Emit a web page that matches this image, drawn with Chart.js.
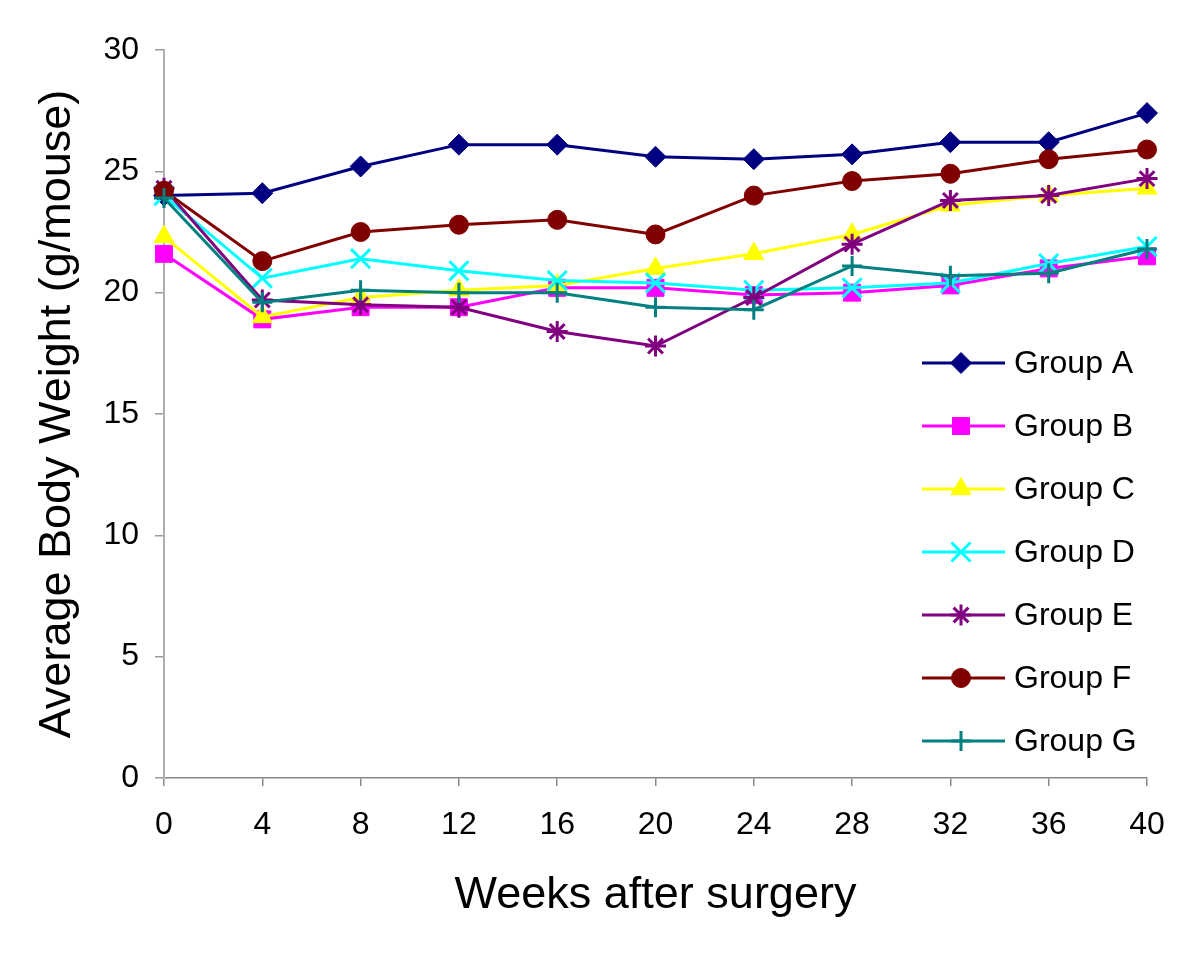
<!DOCTYPE html>
<html>
<head>
<meta charset="utf-8">
<script src="https://cdn.jsdelivr.net/npm/chart.js@4/dist/chart.umd.min.js"></script>
<style>
  body { margin: 0; background: #fff; }
  #wrap { width: 1200px; height: 955px; }
</style>
</head>
<body>
<div id="wrap"><canvas id="weightChart" width="1200" height="955"></canvas></div>
<script>
// weeks after surgery
const weeks = [0, 4, 8, 12, 16, 20, 24, 28, 32, 36, 40];

// average body weight (g/mouse)
const groupA = [24.0, 24.1, 25.2, 26.1, 26.1, 25.6, 25.5, 25.7, 26.2, 26.2, 27.4];
const groupB = [21.6, 18.9, 19.4, 19.4, 20.2, 20.2, 19.9, 20.0, 20.3, 21.0, 21.5];
const groupC = [22.3, 19.0, 19.8, 20.1, 20.3, 21.0, 21.6, 22.4, 23.6, 24.0, 24.3];
const groupD = [24.0, 20.6, 21.4, 20.9, 20.5, 20.4, 20.1, 20.2, 20.4, 21.2, 21.9];
const groupE = [24.3, 19.7, 19.5, 19.4, 18.4, 17.8, 19.8, 22.0, 23.8, 24.0, 24.7];
const groupF = [24.2, 21.3, 22.5, 22.8, 23.0, 22.4, 24.0, 24.6, 24.9, 25.5, 25.9];
const groupG = [23.9, 19.6, 20.1, 20.0, 20.0, 19.4, 19.3, 21.1, 20.7, 20.8, 21.8];

const groupNames = ["Group A", "Group B", "Group C", "Group D", "Group E", "Group F", "Group G"];
const yTicks = [0, 5, 10, 15, 20, 25, 30];

const FONT = "'Liberation Sans', Arial, Helvetica, sans-serif";

// colour, marker, marker size, marker line width
const styles = [
    { color: "#000080", point: "rectRot", radius: 10.5, bw: 1 },
    { color: "#FF00FF", point: "rect", radius: 12, bw: 1 },
    { color: "#FFFF00", point: "triangle", radius: 11.5, bw: 1 },
    { color: "#00FFFF", point: "crossRot", radius: 13.5, bw: 3 },
    { color: "#800080", point: "star", radius: 10.5, bw: 3 },
    { color: "#800000", point: "circle", radius: 9.5, bw: 1 },
    { color: "#008080", point: "cross", radius: 10, bw: 3 },
];

const series = [groupA, groupB, groupC, groupD, groupE, groupF, groupG];

const datasets = series.map((values, i) => ({
    label: groupNames[i],
    data: weeks.map((w, k) => ({ x: w, y: values[k] })),
    borderColor: styles[i].color,
    backgroundColor: styles[i].color,
    borderWidth: 3,
    pointStyle: styles[i].point,
    pointRadius: styles[i].radius,
    pointBorderWidth: styles[i].bw,
    pointBackgroundColor: styles[i].color,
    pointBorderColor: styles[i].color,
    tension: 0,
    clip: false,
    order: series.length - i, // later groups drawn on top, like the original
}));

// legend drawn inside the plot on the right: line + marker + text
const lineLegend = {
    id: "lineLegend",
    afterDraw(chart) {
        const ctx = chart.ctx;
        const x1 = 922, x2 = 1005, xm = 961, xt = 1014;
        const top = 363, step = 63;
        ctx.save();
        chart.data.datasets.forEach((ds, i) => {
            const y = top + i * step;
            ctx.strokeStyle = ds.borderColor;
            ctx.lineWidth = 3;
            ctx.beginPath();
            ctx.moveTo(x1, y);
            ctx.lineTo(x2, y);
            ctx.stroke();
            ctx.fillStyle = ds.pointBackgroundColor;
            ctx.strokeStyle = ds.pointBorderColor;
            ctx.lineWidth = ds.pointBorderWidth;
            Chart.helpers.drawPoint(ctx, {
                pointStyle: ds.pointStyle,
                radius: ds.pointRadius,
                rotation: 0,
                borderWidth: ds.pointBorderWidth,
            }, xm, y);
            ctx.fillStyle = "#000";
            ctx.font = "32px " + FONT;
            ctx.textAlign = "left";
            ctx.textBaseline = "middle";
            ctx.fillText(ds.label, xt, y + 1);
        });
        ctx.restore();
    },
};

new Chart(document.getElementById("weightChart").getContext("2d"), {
    type: "line",
    data: { datasets },
    options: {
        responsive: false,
        animation: false,
        layout: { padding: { top: 50, right: 53, left: 0, bottom: 0 } },
        plugins: {
            legend: { display: false },
            tooltip: { enabled: false },
        },
        scales: {
            x: {
                type: "linear",
                min: 0,
                max: 40,
                afterBuildTicks: (scale) => { scale.ticks = weeks.map((v) => ({ value: v })); },
                afterFit: (scale) => { scale.height = 177; },
                grid: { drawOnChartArea: false, tickLength: 8, color: "#888", lineWidth: 1.5 },
                border: { color: "#888", width: 1.5 },
                ticks: { font: { size: 32, family: FONT }, color: "#000", padding: 20, maxRotation: 0 },
                title: {
                    display: true,
                    text: "Weeks after surgery",
                    font: { size: 45, family: FONT },
                    color: "#000",
                    padding: { top: 0, bottom: 32 },
                },
            },
            y: {
                min: 0,
                max: 30,
                afterBuildTicks: (scale) => { scale.ticks = yTicks.map((v) => ({ value: v })); },
                afterFit: (scale) => { scale.width = 164; },
                grid: { drawOnChartArea: false, tickLength: 9, color: "#999", lineWidth: 1.5 },
                border: { color: "#b0b0b0", width: 2 },
                ticks: { font: { size: 32, family: FONT }, color: "#000", padding: 16 },
                title: {
                    display: true,
                    text: "Average Body Weight (g/mouse)",
                    font: { size: 45, family: FONT },
                    color: "#000",
                    padding: { top: 31, bottom: 0 },
                },
            },
        },
    },
    plugins: [lineLegend],
});
</script>
</body>
</html>
